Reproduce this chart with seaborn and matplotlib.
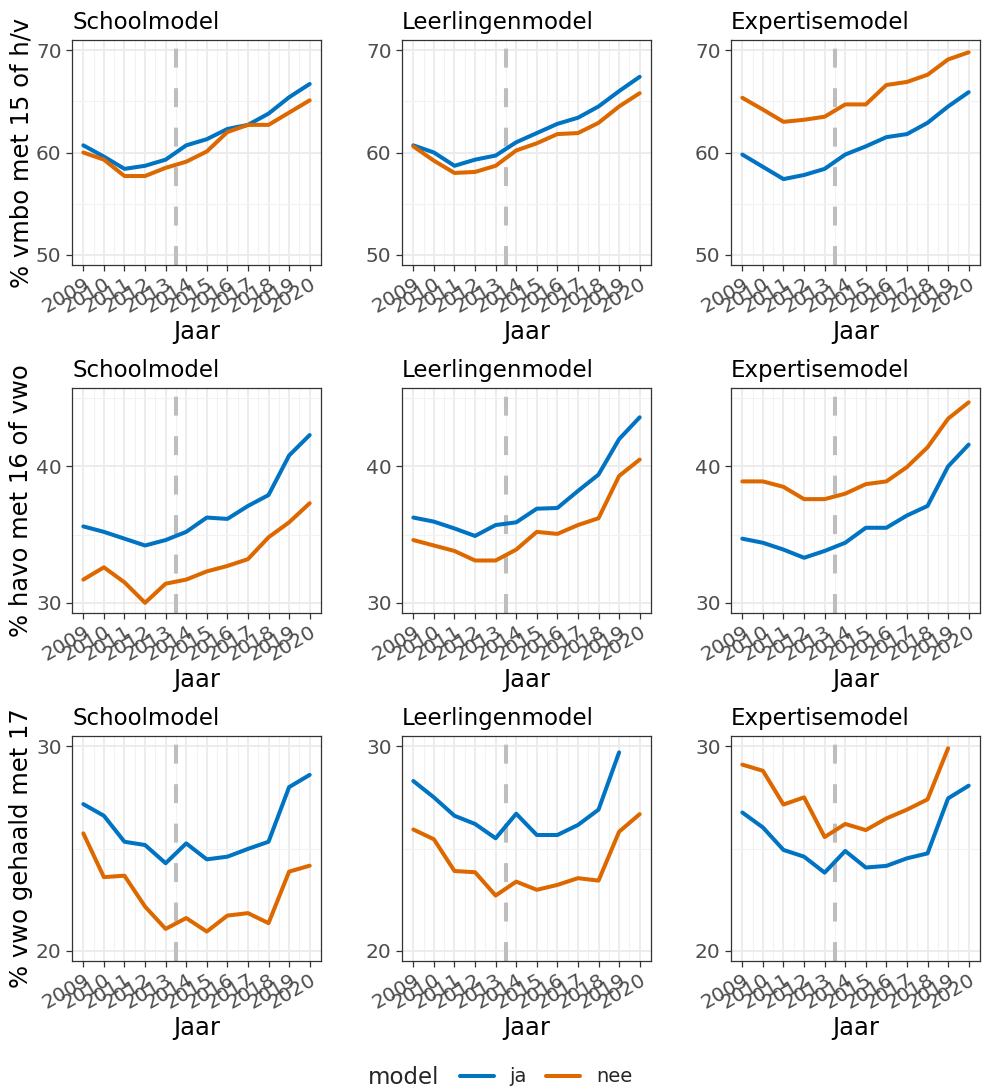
import numpy as np
import pandas as pd
import matplotlib
matplotlib.use("Agg")
import matplotlib.pyplot as plt
from matplotlib.lines import Line2D
from matplotlib.ticker import FixedLocator
import seaborn as sns

# ---- data -------------------------------------------------------------
years = list(range(2009, 2021))
models = ["Schoolmodel", "Leerlingenmodel", "Expertisemodel"]
outcomes = ["% vmbo met 15 of h/v", "% havo met 16 of vwo", "% vwo gehaald met 17"]
groups = ["ja", "nee"]

# vmbo at 15 with havo/vwo
vmbo_school_ja = [60.7, 59.6, 58.4, 58.7, 59.3, 60.7, 61.3, 62.3, 62.7, 63.8, 65.4, 66.7]
vmbo_school_nee = [60.0, 59.3, 57.7, 57.7, 58.5, 59.1, 60.1, 62.0, 62.7, 62.7, 63.9, 65.1]
vmbo_leerl_ja = [60.7, 60.0, 58.7, 59.3, 59.7, 61.0, 61.9, 62.8, 63.4, 64.5, 66.0, 67.4]
vmbo_leerl_nee = [60.6, 59.2, 58.0, 58.1, 58.7, 60.2, 60.9, 61.8, 61.9, 62.9, 64.5, 65.8]
vmbo_exp_ja = [59.8, 58.6, 57.4, 57.8, 58.4, 59.8, 60.6, 61.5, 61.8, 62.9, 64.5, 65.9]
vmbo_exp_nee = [65.35, 64.2, 63.0, 63.2, 63.5, 64.7, 64.7, 66.6, 66.9, 67.6, 69.1, 69.8]

# havo at 16 with vwo
havo_school_ja = [35.6, 35.2, 34.7, 34.2, 34.6, 35.2, 36.25, 36.15, 37.1, 37.9, 40.8, 42.3]
havo_school_nee = [31.7, 32.6, 31.5, 30.0, 31.4, 31.7, 32.3, 32.7, 33.2, 34.8, 35.9, 37.3]
havo_leerl_ja = [36.25, 35.95, 35.45, 34.9, 35.7, 35.9, 36.9, 36.95, 38.2, 39.4, 42.0, 43.6]
havo_leerl_nee = [34.6, 34.2, 33.8, 33.1, 33.1, 33.9, 35.2, 35.05, 35.7, 36.2, 39.3, 40.5]
havo_exp_ja = [34.7, 34.4, 33.9, 33.3, 33.8, 34.4, 35.5, 35.5, 36.4, 37.1, 40.0, 41.6]
havo_exp_nee = [38.9, 38.9, 38.5, 37.6, 37.6, 38.0, 38.7, 38.9, 39.95, 41.4, 43.5, 44.7]

# vwo diploma at 17 (values above the axis range are not shown)
vwo_school_ja = [27.17, 26.6, 25.33, 25.17, 24.28, 25.25, 24.47, 24.6, 24.98, 25.33, 28.0, 28.6]
vwo_school_nee = [25.74, 23.6, 23.67, 22.16, 21.07, 21.6, 20.94, 21.72, 21.84, 21.35, 23.87, 24.16]
vwo_leerl_ja = [28.3, 27.5, 26.6, 26.2, 25.5, 26.7, 25.66, 25.66, 26.15, 26.9, 29.7, np.nan]
vwo_leerl_nee = [25.93, 25.45, 23.9, 23.84, 22.7, 23.38, 22.98, 23.22, 23.55, 23.43, 25.82, 26.68]
vwo_exp_ja = [26.76, 26.03, 24.93, 24.6, 23.82, 24.88, 24.07, 24.15, 24.52, 24.76, 27.45, 28.07]
vwo_exp_nee = [29.1, 28.8, 27.15, 27.5, 25.56, 26.2, 25.9, 26.47, 26.9, 27.4, 29.9, np.nan]

series = {
    (outcomes[0], models[0]): (vmbo_school_ja, vmbo_school_nee),
    (outcomes[0], models[1]): (vmbo_leerl_ja, vmbo_leerl_nee),
    (outcomes[0], models[2]): (vmbo_exp_ja, vmbo_exp_nee),
    (outcomes[1], models[0]): (havo_school_ja, havo_school_nee),
    (outcomes[1], models[1]): (havo_leerl_ja, havo_leerl_nee),
    (outcomes[1], models[2]): (havo_exp_ja, havo_exp_nee),
    (outcomes[2], models[0]): (vwo_school_ja, vwo_school_nee),
    (outcomes[2], models[1]): (vwo_leerl_ja, vwo_leerl_nee),
    (outcomes[2], models[2]): (vwo_exp_ja, vwo_exp_nee),
}

rows = []
for (outcome, model), (ja, nee) in series.items():
    for grp, vals in zip(groups, (ja, nee)):
        for yr, v in zip(years, vals):
            rows.append({"outcome": outcome, "modeltype": model, "model": grp,
                         "Jaar": yr, "waarde": v})
df = pd.DataFrame(rows)

# axis settings per row
y_limits = [(50, 70), (30, 45), (20, 30)]
y_major = [[50, 60, 70], [30, 40], [20, 30]]
y_minor = [[55, 65], [35, 45], [25]]
reform_year = 2013.5

palette = {"ja": "#0073C2", "nee": "#DD6800"}

# ---- figure -----------------------------------------------------------
sns.set_theme(style="white")
plt.rcParams["font.family"] = ["DejaVu Sans"]

W, H = 986, 1090
fig = plt.figure(figsize=(W / 100, H / 100), dpi=100)

col_left = [72, 402, 731]
row_top = [40, 388, 736]
pw, ph = 249, 225

for r, outcome in enumerate(outcomes):
    for c, model in enumerate(models):
        ax = fig.add_axes([col_left[c] / W, 1 - (row_top[r] + ph) / H, pw / W, ph / H])
        sub = df[(df.outcome == outcome) & (df.modeltype == model)]
        lo, hi = y_limits[r]
        pad = (hi - lo) * 0.05
        ax.set_xlim(2009 - 0.55, 2020 + 0.55)
        ax.set_ylim(lo - pad, hi + pad)

        # grid
        ax.xaxis.set_major_locator(FixedLocator(years))
        ax.xaxis.set_minor_locator(FixedLocator([y + 0.5 for y in years[:-1]]))
        ax.yaxis.set_major_locator(FixedLocator(y_major[r]))
        ax.yaxis.set_minor_locator(FixedLocator(y_minor[r]))
        ax.grid(which="major", color="#EBEBEB", linewidth=1.3)
        ax.grid(which="minor", color="#F2F2F2", linewidth=0.8)
        ax.set_axisbelow(True)

        ax.axvline(reform_year, color="#BEBEBE", linewidth=2.9,
                   linestyle=(0, (4.7, 5.1)), zorder=2)

        sns.lineplot(data=sub, x="Jaar", y="waarde", hue="model",
                     hue_order=groups, palette=palette, linewidth=2.9,
                     ax=ax, legend=False, zorder=3)

        for s in ax.spines.values():
            s.set_color("#333333")
            s.set_linewidth(0.9)

        ax.tick_params(axis="both", which="major", direction="out", length=4,
                       width=0.9, color="#333333", labelcolor="#4D4D4D",
                       labelsize=14.5, left=True, bottom=True)
        ax.tick_params(axis="both", which="minor", length=0)
        ax.set_xticks(years)
        ax.set_xticklabels([str(y) for y in years], rotation=30,
                           ha="right", va="top", rotation_mode="anchor")
        ax.tick_params(axis="x", pad=3)

        ax.set_xlabel("Jaar", fontsize=17.5, color="black", labelpad=2)
        if c == 0:
            ax.set_ylabel(outcome, fontsize=17.5, color="black", labelpad=2)
        else:
            ax.set_ylabel("")
        ax.set_title(model, loc="left", fontsize=16.5, color="black", pad=8)

# legend along the bottom
handles = [Line2D([0], [0], color=palette[g], linewidth=2.9) for g in groups]
fig.text(368 / W, 1 - 1077 / H, "model", fontsize=16.5, ha="left", va="center")
fig.legend(handles, groups, loc="center left", bbox_to_anchor=(452 / W, 1 - 1077 / H),
           ncol=2, frameon=False, fontsize=14, handlelength=1.75,
           handletextpad=0.8, columnspacing=1.0, borderaxespad=0)

fig.savefig("out.png", dpi=100)
